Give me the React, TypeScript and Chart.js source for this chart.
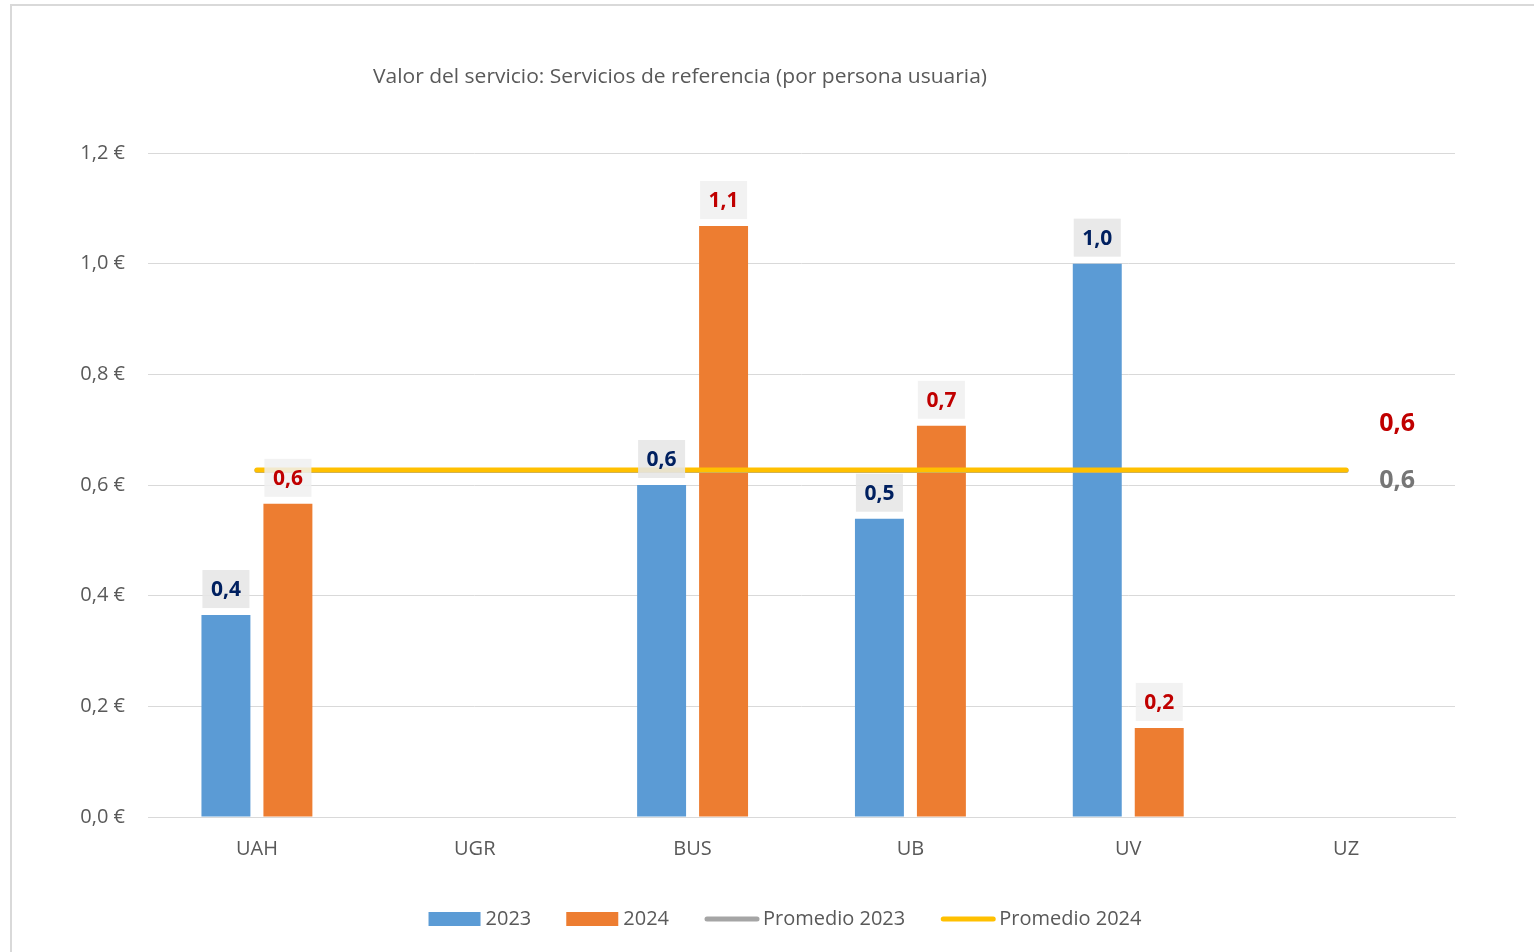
import React, { useEffect, useRef } from "react";
import { Chart, registerables } from "chart.js";

Chart.register(...registerables);

const categories = ["UAH", "UGR", "BUS", "UB", "UV", "UZ"];
const values2023: (number | null)[] = [0.365, null, 0.6, 0.539, 1.0, null];
const values2024: (number | null)[] = [0.566, null, 1.068, 0.707, 0.161, null];
const avg2023 = 0.626;
const avg2024 = 0.627;
const yTicks = [0, 0.2, 0.4, 0.6, 0.8, 1.0, 1.2];
const titleText = "Valor del servicio: Servicios de referencia (por persona usuaria)";
const seriesNames = ["2023", "2024", "Promedio 2023", "Promedio 2024"];

const BLUE = "#5B9BD5";
const ORANGE = "#ED7D31";
const GRAY = "#A5A5A5";
const YELLOW = "#FFC000";
const TEXT = "#595959";
const FONT = "'Open Sans', 'Noto Sans', sans-serif";

const fmt = (v: number) => v.toFixed(1).replace(".", ",");

const framePlugin = {
  id: "frame",
  beforeDraw(chart: any) {
    const ctx = chart.ctx;
    ctx.save();
    ctx.fillStyle = "#FFFFFF";
    ctx.fillRect(0, 0, chart.width, chart.height);
    ctx.strokeStyle = "#D9D9D9";
    ctx.lineWidth = 2;
    ctx.beginPath();
    ctx.moveTo(11, chart.height + 2);
    ctx.lineTo(11, 5);
    ctx.lineTo(chart.width + 2, 5);
    ctx.stroke();
    ctx.restore();
  },
};

const titlePlugin = {
  id: "customTitle",
  afterDraw(chart: any) {
    const ctx = chart.ctx;
    ctx.save();
    ctx.font = `20px ${FONT}`;
    ctx.fillStyle = TEXT;
    ctx.textBaseline = "middle";
    ctx.textAlign = "center";
    const w = ctx.measureText(titleText).width;
    const target = 614;
    const sx = target / w;
    ctx.translate(680, 77);
    ctx.scale(sx, 1);
    ctx.fillText(titleText, 0, 0);
    ctx.restore();
  },
};

const legendPlugin = {
  id: "customLegend",
  afterDraw(chart: any) {
    const ctx = chart.ctx;
    ctx.save();
    ctx.font = `20px ${FONT}`;
    ctx.textBaseline = "middle";
    ctx.textAlign = "left";
    const symW = [52, 52, 56, 56];
    const gap = [5, 5, 3, 3];
    const spacing = 35;
    const colors = [BLUE, ORANGE, GRAY, YELLOW];
    let total = 0;
    seriesNames.forEach((n, i) => {
      total += symW[i] + gap[i] + ctx.measureText(n).width;
      if (i < seriesNames.length - 1) total += spacing;
    });
    let x = 785 - total / 2;
    const cy = 919;
    seriesNames.forEach((n, i) => {
      if (i < 2) {
        ctx.fillStyle = colors[i];
        ctx.fillRect(x, cy - 7, symW[i], 14);
      } else {
        ctx.strokeStyle = colors[i];
        ctx.lineWidth = 5;
        ctx.lineCap = "round";
        ctx.beginPath();
        ctx.moveTo(x + 3, cy);
        ctx.lineTo(x + symW[i] - 3, cy);
        ctx.stroke();
      }
      x += symW[i] + gap[i];
      ctx.fillStyle = TEXT;
      ctx.fillText(n, x, cy);
      x += ctx.measureText(n).width + spacing;
    });
    ctx.restore();
  },
};

const labelsPlugin = {
  id: "valueLabels",
  afterDatasetsDraw(chart: any) {
    const ctx = chart.ctx;
    ctx.save();
    ctx.textAlign = "center";
    ctx.textBaseline = "middle";
    const boxFill = ["rgba(230,230,230,0.88)", "rgba(240,240,240,0.85)"];
    const txtCol = ["#002060", "#C00000"];
    [0, 1].forEach((di) => {
      const meta = chart.getDatasetMeta(di);
      const data = chart.data.datasets[di].data;
      meta.data.forEach((el: any, i: number) => {
        const v = data[i];
        if (v === null || v === undefined) return;
        const bw = 47;
        const bh = 38;
        const bottom = el.y - 7;
        ctx.fillStyle = boxFill[di];
        ctx.fillRect(el.x - bw / 2, bottom - bh, bw, bh);
        ctx.fillStyle = txtCol[di];
        ctx.font = `bold 21px ${FONT}`;
        ctx.fillText(fmt(v), el.x, bottom - bh / 2 + 1);
      });
    });
    const m23 = chart.getDatasetMeta(2);
    const m24 = chart.getDatasetMeta(3);
    const last23 = m23.data[m23.data.length - 1];
    const last24 = m24.data[m24.data.length - 1];
    ctx.font = `bold 25px ${FONT}`;
    ctx.fillStyle = "#767676";
    ctx.fillText(fmt(avg2023), last23.x + 51, last23.y + 10);
    ctx.fillStyle = "#C00000";
    ctx.fillText(fmt(avg2024), last24.x + 51, last24.y - 46);
    ctx.restore();
  },
};

export default function App() {
  const ref = useRef<HTMLCanvasElement | null>(null);

  useEffect(() => {
    if (!ref.current) return;
    const chart = new Chart(ref.current, {
      type: "bar",
      data: {
        labels: categories,
        datasets: [
          {
            type: "bar",
            label: seriesNames[0],
            data: values2023,
            backgroundColor: BLUE,
            order: 2,
            categoryPercentage: 0.569,
            barPercentage: 0.79,
          },
          {
            type: "bar",
            label: seriesNames[1],
            data: values2024,
            backgroundColor: ORANGE,
            order: 3,
            categoryPercentage: 0.569,
            barPercentage: 0.79,
          },
          {
            type: "line",
            label: seriesNames[2],
            data: categories.map(() => avg2023),
            borderColor: GRAY,
            borderWidth: 5,
            borderCapStyle: "round",
            pointRadius: 0,
            fill: false,
            order: 1,
          },
          {
            type: "line",
            label: seriesNames[3],
            data: categories.map(() => avg2024),
            borderColor: YELLOW,
            borderWidth: 5,
            borderCapStyle: "round",
            pointRadius: 0,
            fill: false,
            order: 0,
          },
        ] as any,
      },
      options: {
        animation: false,
        responsive: false,
        devicePixelRatio: 1,
        layout: { padding: { top: 153, right: 79, bottom: 0, left: 0 } },
        plugins: {
          legend: { display: false },
          title: { display: false },
          tooltip: { enabled: false },
        },
        scales: {
          x: {
            grid: { display: false, drawTicks: false },
            border: { display: true, color: "#D9D9D9", width: 1 },
            ticks: { color: TEXT, font: { family: FONT, size: 20 }, padding: 20 },
            afterFit(scale: any) {
              scale.height = 135;
            },
          },
          y: {
            min: 0,
            max: 1.2,
            grid: { color: "#D9D9D9", lineWidth: 1, drawTicks: false },
            border: { display: false },
            afterBuildTicks(scale: any) {
              scale.ticks = yTicks.map((v) => ({ value: v }));
            },
            ticks: {
              color: TEXT,
              font: { family: FONT, size: 20 },
              padding: 23,
              callback: (v: any) => `${fmt(Number(v))} €`,
            },
            afterFit(scale: any) {
              scale.width = 148;
            },
          },
        },
      },
      plugins: [framePlugin, titlePlugin, legendPlugin, labelsPlugin],
    });
    return () => chart.destroy();
  }, []);

  return (
    <div style={{ position: "absolute", left: 0, top: 0, width: 1534, height: 952, overflow: "hidden" }}>
      <canvas ref={ref} width={1534} height={952} style={{ display: "block" }} />
    </div>
  );
}
